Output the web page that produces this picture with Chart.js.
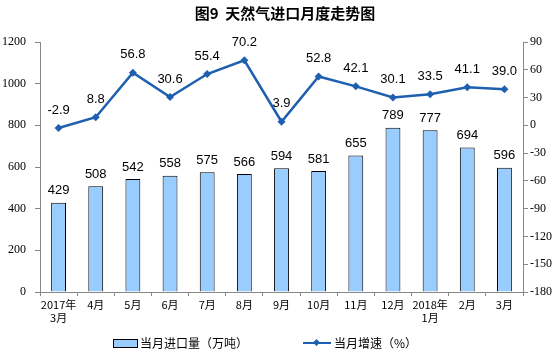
<!DOCTYPE html>
<html><head><meta charset="utf-8">
<script src="https://cdn.jsdelivr.net/npm/chart.js@4.4.0/dist/chart.umd.min.js"></script>
<style>
html,body{margin:0;padding:0;background:#fff;}
#wrap{position:relative;width:558px;height:352px;}
#title{position:absolute;top:2px;left:0;width:570px;text-align:center;font:bold 15px "Noto Sans CJK SC",sans-serif;color:#000;white-space:pre;}
.lg{position:absolute;font:12px "Noto Sans CJK SC",sans-serif;color:#000;line-height:14px;}
#box1{position:absolute;left:113px;top:339px;width:23px;height:7px;background:#99ccff;border:1px solid #000;}
#ln2{position:absolute;left:303px;top:342px;width:28px;height:2px;background:#1f5fb0;}
#dm2{position:absolute;left:314px;top:340px;width:5px;height:5px;background:#1f5fb0;transform:rotate(45deg);}
</style></head>
<body><div id="wrap">
<canvas id="c" width="558" height="352"></canvas>
<div id="title">图9  天然气进口月度走势图</div>
<div id="box1"></div><div class="lg" style="left:140px;top:336px">当月进口量（万吨）</div>
<div id="ln2"></div><div id="dm2"></div><div class="lg" style="left:334px;top:336px">当月增速（%）</div>
</div>
<script>
const months=[['2017年','3月'],'4月','5月','6月','7月','8月','9月','10月','11月','12月',['2018年','1月'],'2月','3月'];
const importVol=[429,508,542,558,575,566,594,581,655,789,777,694,596];
const growth=[-2.9,8.8,56.8,30.6,55.4,70.2,3.9,52.8,42.1,30.1,33.5,41.1,39.0];

const valueLabels={id:'valueLabels',afterDatasetsDraw(chart){
const ctx=chart.ctx;ctx.save();
ctx.font='13px "Liberation Sans", Arial';ctx.fillStyle='#000';ctx.textAlign='center';ctx.textBaseline='middle';
chart.getDatasetMeta(0).data.forEach((b,i)=>ctx.fillText(importVol[i],b.x,b.y-12));
chart.getDatasetMeta(1).data.forEach((p,i)=>ctx.fillText(growth[i].toFixed(1),p.x,p.y-18));
ctx.restore();
}};

new Chart(document.getElementById('c'),{
type:'bar',
data:{labels:months,datasets:[
{type:'bar',label:'当月进口量（万吨）',data:importVol,yAxisID:'y',backgroundColor:'#99ccff',borderColor:'#000',borderWidth:1,barPercentage:0.4,categoryPercentage:1,order:1},
{type:'line',label:'当月增速（%）',data:growth,yAxisID:'y1',borderColor:'#1f5fb0',backgroundColor:'#1f5fb0',borderWidth:2.5,pointStyle:'rectRot',pointRadius:4,pointBorderWidth:0,tension:0,order:0}
]},
options:{responsive:false,animation:false,
layout:{padding:{top:42,left:0,right:0,bottom:0}},
plugins:{legend:{display:false},tooltip:{enabled:false}},
scales:{
x:{afterFit:s=>{s.height=60},grid:{display:true,drawOnChartArea:false,tickLength:4,color:'#888'},border:{color:'#888'},
ticks:{padding:2,color:'#000',font:{family:'"Noto Sans CJK SC"',size:11},maxRotation:0,autoSkip:false}},
y:{position:'left',min:0,max:1200,afterFit:s=>{s.width=40},grid:{drawOnChartArea:false,tickLength:5,color:'#888'},border:{color:'#888'},
ticks:{stepSize:200,padding:9,color:'#000',font:{family:'"Liberation Serif"',size:12},callback:v=>String(v)}},
y1:{position:'right',min:-180,max:90,afterFit:s=>{s.width=35},grid:{drawOnChartArea:false,tickLength:5,color:'#888'},border:{color:'#888'},
ticks:{stepSize:30,padding:2,color:'#000',font:{family:'"Liberation Serif"',size:12},callback:v=>String(v)}}
}},
plugins:[valueLabels]
});
</script>
</body></html>
